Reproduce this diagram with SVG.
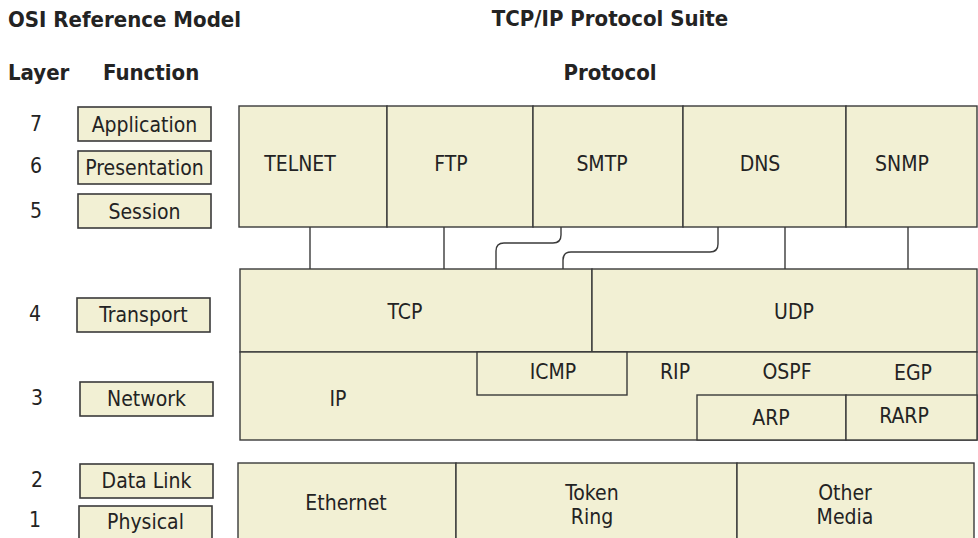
<svg xmlns="http://www.w3.org/2000/svg" width="978" height="538" viewBox="0 0 978 538">
<style>
text{font-family:"DejaVu Sans Condensed","DejaVu Sans","Liberation Sans",sans-serif;font-stretch:condensed;font-size:21px;fill:#232323}
.b{font-weight:bold;font-size:22px}
.c{text-anchor:middle}
.box{fill:#F2F0D4;stroke:#3a3a3a;stroke-width:1.4}
.fb{fill:#F2F0D4;stroke:#3a3a3a;stroke-width:1.6}
.ln{fill:none;stroke:#3a3a3a;stroke-width:1.4}
</style>
<rect width="978" height="538" fill="#ffffff"/>
<g id="titles">
<text class="b" x="8" y="27">OSI Reference Model</text>
<text class="b c" x="610" y="26">TCP/IP Protocol Suite</text>
<text class="b" x="8" y="80">Layer</text>
<text class="b" x="103" y="80">Function</text>
<text class="b c" x="610" y="80">Protocol</text>
</g>
<g id="layer-numbers">
<text class="c" x="36" y="131">7</text>
<text class="c" x="36" y="173">6</text>
<text class="c" x="36" y="218">5</text>
<text class="c" x="35" y="321">4</text>
<text class="c" x="37" y="405">3</text>
<text class="c" x="37" y="487">2</text>
<text class="c" x="35" y="527">1</text>
</g>
<g id="fn-application"><rect class="fb" x="78" y="107" width="133" height="34"/><text class="c" x="144.5" y="132">Application</text></g>
<g id="fn-presentation"><rect class="fb" x="78" y="151" width="133" height="33"/><text class="c" x="144.5" y="175">Presentation</text></g>
<g id="fn-session"><rect class="fb" x="78" y="194" width="133" height="34"/><text class="c" x="144.5" y="219">Session</text></g>
<g id="fn-transport"><rect class="fb" x="77" y="298" width="133" height="34"/><text class="c" x="143.5" y="322">Transport</text></g>
<g id="fn-network"><rect class="fb" x="80" y="382" width="133" height="34"/><text class="c" x="146.5" y="406">Network</text></g>
<g id="fn-datalink"><rect class="fb" x="80" y="464" width="133" height="34"/><text class="c" x="146.5" y="488">Data Link</text></g>
<g id="fn-physical"><rect class="fb" x="79" y="506" width="133" height="40"/><text class="c" x="145.5" y="529">Physical</text></g>
<g id="telnet"><rect class="box" x="239" y="106" width="148" height="121"/><text class="c" x="300" y="171">TELNET</text></g>
<g id="ftp"><rect class="box" x="387" y="106" width="146" height="121"/><text class="c" x="451" y="171">FTP</text></g>
<g id="smtp"><rect class="box" x="533" y="106" width="150" height="121"/><text class="c" x="602" y="171">SMTP</text></g>
<g id="dns"><rect class="box" x="683" y="106" width="163" height="121"/><text class="c" x="760" y="171">DNS</text></g>
<g id="snmp"><rect class="box" x="846" y="106" width="131" height="121"/><text class="c" x="902" y="171">SNMP</text></g>
<g id="connectors">
<path class="ln" d="M310,227V269"/>
<path class="ln" d="M444,227V269"/>
<path class="ln" d="M785,227V269"/>
<path class="ln" d="M908,227V269"/>
<path class="ln" d="M561,227V235Q561,243 553,243H504Q496,243 496,251V269"/>
<path class="ln" d="M718,227V244Q718,252 710,252H571Q563,252 563,260V269"/>
</g>
<g id="tcp"><rect class="box" x="240" y="269" width="352" height="83"/><text class="c" x="405" y="319">TCP</text></g>
<g id="udp"><rect class="box" x="592" y="269" width="385" height="83"/><text class="c" x="794" y="319">UDP</text></g>
<g id="ip"><rect class="box" x="240" y="352" width="737" height="88"/><text class="c" x="338" y="406">IP</text></g>
<g id="icmp"><rect class="box" x="477" y="352" width="150" height="43"/><text class="c" x="553" y="379">ICMP</text></g>
<g id="rip"><text class="c" x="675" y="379">RIP</text></g>
<g id="ospf"><text class="c" x="787" y="379">OSPF</text></g>
<g id="egp"><text class="c" x="913" y="380">EGP</text></g>
<g id="arp"><rect class="box" x="697" y="395" width="149" height="45"/><text class="c" x="771" y="425">ARP</text></g>
<g id="rarp"><rect class="box" x="846" y="395" width="131" height="45"/><text class="c" x="904" y="423">RARP</text></g>
<g id="ethernet"><rect class="box" x="238" y="463" width="218" height="85"/><text class="c" x="346" y="510">Ethernet</text></g>
<g id="token-ring"><rect class="box" x="456" y="463" width="281" height="85"/><text class="c" x="592" y="500">Token</text><text class="c" x="592" y="524">Ring</text></g>
<g id="other-media"><rect class="box" x="737" y="463" width="237" height="85"/><text class="c" x="845" y="500">Other</text><text class="c" x="845" y="524">Media</text></g>
</svg>
